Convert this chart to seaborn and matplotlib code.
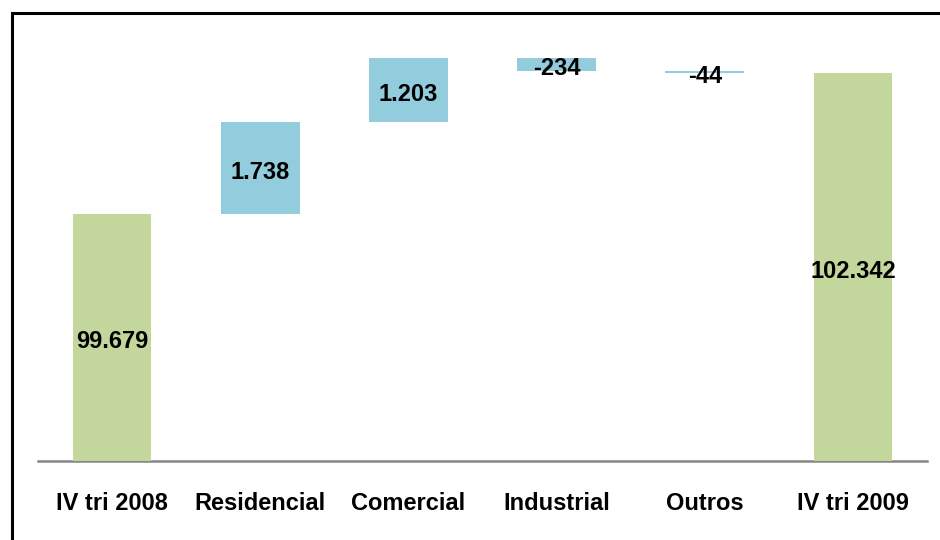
import matplotlib
matplotlib.use('Agg')
import matplotlib.pyplot as plt
import seaborn as sns
import numpy as np
import pandas as pd
from matplotlib.patches import Rectangle

# Dados (consumo de energia, variação IV tri 2008 -> IV tri 2009)
categorias = ['IV tri 2008', 'Residencial', 'Comercial', 'Industrial', 'Outros', 'IV tri 2009']
valores = [99679, 1738, 1203, -234, -44, 102342]
eh_total = [True, False, False, False, False, True]

cor_total = '#C3D69B'
cor_var = '#93CDDD'

sns.set_theme(style='white')
plt.rcParams['font.family'] = ['Liberation Sans', 'DejaVu Sans']

# bases do waterfall
bases = []
acumulado = 0
for v, t in zip(valores, eh_total):
    if t:
        bases.append(0)
        acumulado = v
    else:
        bases.append(acumulado)
        acumulado += v

df = pd.DataFrame({'categoria': categorias, 'valor': valores, 'base': bases})
cores = [cor_total if t else cor_var for t in eh_total]

fig = plt.figure(figsize=(9.4, 5.4), dpi=100)
ax = fig.add_axes([38 / 940, 79 / 540, 889 / 940, 449 / 540])

sns.barplot(data=df, x='categoria', y='valor', bottom=df['base'].values,
            width=0.53, saturation=1, color=cor_var, ax=ax)
for barra, c in zip(ax.patches, cores):
    barra.set_facecolor(c)
    barra.set_edgecolor('none')

ax.set_ylim(95000, 103500)
ax.set_xlim(-0.5, 5.5)
ax.set_xlabel('')
ax.set_ylabel('')
ax.set_yticks([])
ax.tick_params(axis='x', length=0, pad=22, labelsize=17, labelcolor='black')
for lbl in ax.get_xticklabels():
    lbl.set_fontweight('bold')
for s in ['top', 'right', 'left']:
    ax.spines[s].set_visible(False)
ax.spines['bottom'].set_color('#868686')
ax.spines['bottom'].set_linewidth(1.8)
ax.spines['bottom'].set_zorder(0)

# rótulos de valor
ymin = ax.get_ylim()[0]
for i, (v, b) in enumerate(zip(valores, bases)):
    lo = max(min(b, b + v), ymin)
    hi = max(b, b + v)
    texto = f'{v:,}'.replace(',', '.')
    ax.annotate(texto, (i, (lo + hi) / 2), xytext=(0, -3), textcoords='offset points',
                ha='center', va='center', fontsize=17, fontweight='bold', color='black')

# moldura do gráfico
fig.patches.append(Rectangle((12 / 940, -0.2), 1.2, 1 - 13 / 540 + 0.2,
                             transform=fig.transFigure, fill=False,
                             edgecolor='black', linewidth=2.2, clip_on=False))

fig.savefig('out.png', dpi=100)
